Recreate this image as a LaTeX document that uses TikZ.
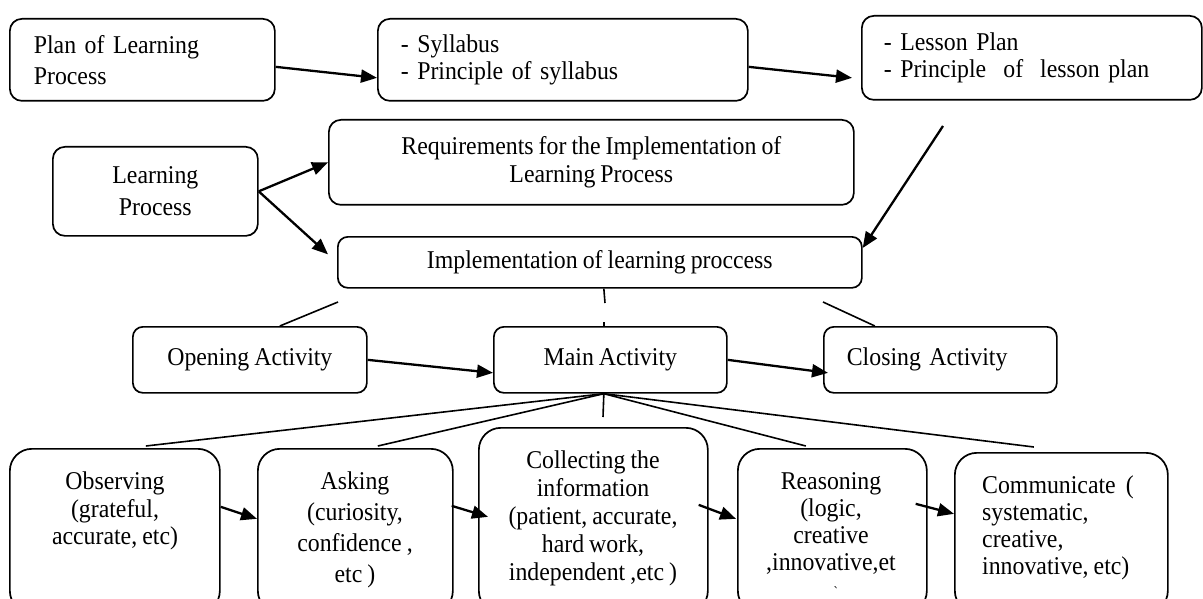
\documentclass[tikz,border=0pt]{standalone}
\usepackage{fontspec}
\setmainfont{Liberation Serif}[FakeStretch=0.93, WordSpace=0.85]
\usetikzlibrary{arrows.meta}
\tikzset{
  box/.style={draw, line width=1.7pt, rounded corners=12pt, inner sep=0pt, anchor=north west,
    font=\fontsize{25.6}{28}\selectfont},
  bbox/.style={box, rounded corners=22pt},
  txt/.style={inner sep=0pt, font=\fontsize{25.6}{28}\selectfont},
  arr/.style={line width=2.3pt, -{Triangle[length=16pt,width=13pt]}},
  ln/.style={line width=1.6pt},
}
\begin{document}
\begin{tikzpicture}[x=1pt,y=-1pt]
\clip (0,0) rectangle (1203,599);
\fill[white] (0,0) rectangle (1203,599);

% top row
\node[box, minimum width=265pt, minimum height=82pt, text width=217pt, align=left,
  font=\fontsize{25.6}{31}\selectfont] (plan) at (9,18) {Plan of Learning\\Process};
\node[box, minimum width=370pt, minimum height=82pt, text width=324pt, align=left,
  font=\fontsize{25.6}{27}\selectfont] (syl) at (377,18) {- Syllabus\\- Principle of syllabus};
\node[box, minimum width=340pt, minimum height=84pt, text width=296pt, align=left,
  font=\fontsize{25.6}{27}\selectfont] (les) at (861,15) {- Lesson Plan\\- Principle\ \ of\ \ lesson plan};

% middle
\node[box, minimum width=205pt, minimum height=89pt, align=center,
  font=\fontsize{25.6}{32}\selectfont] (learn) at (52,146) {Learning\\Process};
\node[box, minimum width=525pt, minimum height=85pt, align=center] (req) at (328,119)
  {Requirements for the Implementation of\\Learning Process};
\node[box, minimum width=524pt, minimum height=51pt, rounded corners=10pt] (impl) at (337,236)
  {Implementation of learning proccess};

\node[box, minimum width=234pt, minimum height=66pt, rounded corners=10pt] (open) at (132,326) {Opening Activity};
\node[box, minimum width=233pt, minimum height=66pt, rounded corners=10pt] (main) at (493,326) {Main Activity};
\node[box, minimum width=233pt, minimum height=66pt, rounded corners=10pt, text width=187pt, align=left] (close) at (823,326) {Closing Activity};

% bottom row boxes
\node[bbox, minimum width=210pt, minimum height=164pt] (obs) at (9,448) {};
\node[bbox, minimum width=195pt, minimum height=164pt] (ask) at (257,448) {};
\node[bbox, minimum width=229pt, minimum height=185pt] (coll) at (478,427) {};
\node[bbox, minimum width=189pt, minimum height=164pt] (reas) at (737,448) {};
\node[bbox, minimum width=213pt, minimum height=160pt] (comm) at (954,452) {};

% bottom row texts
\node[txt, anchor=north, align=center, font=\fontsize{25.6}{27.5}\selectfont] (obst) at (115,472)
  {Observing\\(grateful,\\accurate, etc)};
\node[txt, anchor=north, align=center, font=\fontsize{25.6}{31}\selectfont] (askt) at (355,472)
  {Asking\\(curiosity,\\confidence ,\\etc )};
\node[txt, anchor=north, align=center] (collt) at (593,450.5)
  {Collecting the\\information\\(patient, accurate,\\hard work,\\independent ,etc )};
\node[txt, anchor=north, align=center, font=\fontsize{25.6}{27}\selectfont] (reast) at (831,472.5)
  {Reasoning\\(logic,\\creative\\,innovative,et};
\node[txt, font=\fontsize{14}{14}\selectfont] (tick) at (836,592) {\textasciigrave};
\node[txt, anchor=north west, align=left, font=\fontsize{25.6}{27}\selectfont] (commt) at (982,475.5)
  {Communicate\ \ (\\systematic,\\creative,\\innovative, etc)};

% free ends
\coordinate (lstart) at (943,126);
\coordinate (c1) at (338,302);
\coordinate (c2) at (605,303);
\coordinate (c3) at (823,302);
\coordinate (c4) at (603,417);
\coordinate (apex) at ([xshift=-6.5pt]main.south);

% arrows
\draw[arr] ([yshift=-7pt]plan.east) -- ([yshift=-18pt]syl.west);
\draw[arr] ([yshift=-7pt]syl.east) -- ([xshift=-9pt,yshift=-20pt]les.west);
\draw[arr] (lstart) -- ([yshift=-12pt]impl.north east);
\draw[arr] (learn.east) -- (req.west);
\draw[arr] (learn.east) -- ([xshift=-9pt,yshift=8pt]impl.west);
\draw[arr] (open.east) -- ([yshift=-13pt]main.west);
\draw[arr] (main.east) -- ([xshift=5pt,yshift=-13pt]close.west);

% plain lines
\draw[ln] ([xshift=30pt]open.north) -- (c1);
\draw[ln] ([xshift=4pt]impl.south) -- (c2);
\draw[ln] ([xshift=-6.5pt]main.north) -- ++(0,-4);
\draw[ln] ([xshift=-65.5pt]close.north) -- (c3);

% fan
\draw[ln] (apex) -- ([xshift=31pt,yshift=2pt]obs.north);
\draw[ln] (apex) -- ([xshift=22.5pt,yshift=2pt]ask.north);
\draw[ln] (apex) -- (c4);
\draw[ln] (apex) -- ([xshift=-26.5pt,yshift=2pt]reas.north);
\draw[ln] (apex) -- ([xshift=-27.5pt,yshift=5pt]comm.north);

% bottom arrows
\draw[arr] ([yshift=24pt]obs.east) -- ([yshift=12pt]ask.west);
\draw[arr] ([xshift=-2pt,yshift=25pt]ask.east) -- ([xshift=10pt,yshift=3.5pt]coll.west);
\draw[arr] ([xshift=-10pt,yshift=15.5pt]coll.east) -- ([xshift=-1pt,yshift=12pt]reas.west);
\draw[arr] ([xshift=-12pt,yshift=27pt]reas.east) -- ([yshift=19pt]comm.west);
\end{tikzpicture}
\end{document}
